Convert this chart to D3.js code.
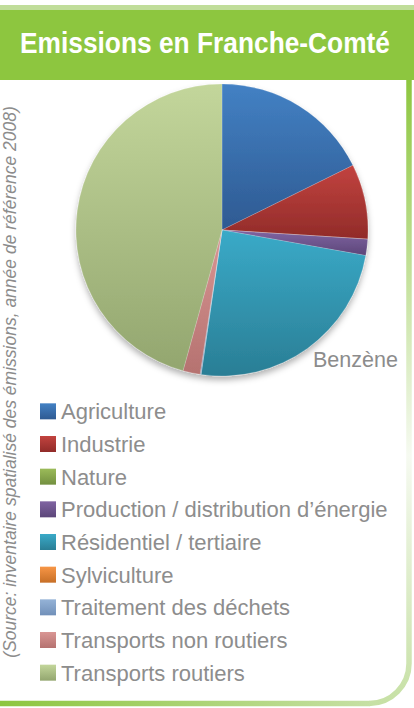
<!doctype html>
<html lang="fr">
<head>
  <meta charset="utf-8">
  <script src="https://d3js.org/d3.v7.min.js"></script>
  <title>Emissions en Franche-Comté</title>
  <style>
    body { margin: 0; background: #fff; }
    svg { display: block; font-family: "Liberation Sans", Arial, sans-serif; }
  </style>
</head>
<body>
  <svg id="chart" width="414" height="708"></svg>
  <script>
    // categories and shares (%), clockwise from 12 o'clock
    var sectors = ["Agriculture", "Industrie", "Nature", "Production / distribution d\u2019énergie",
      "Résidentiel / tertiaire", "Sylviculture", "Traitement des déchets",
      "Transports non routiers", "Transports routiers"];
    var shares = [17.7, 8.3, 0, 1.8, 24.5, 0, 0.1, 1.9, 45.7];
    var topColors = ["#4381c4", "#c2433f", "#9bbb59", "#8064a2", "#3aaac8", "#f79646", "#95b3d7", "#d99694", "#c3d69b"];
    var bottomColors = ["#2e5a92", "#912b29", "#739040", "#5c4679", "#2a7e95", "#c76f27", "#7190b9", "#b57270", "#93a66f"];
    var pollutant = "Benzène";
    var title = "Emissions en Franche-Comté";
    var source = "(Source: inventaire spatialisé des émissions, année de référence 2008)";

    var svg = d3.select("#chart");
    var defs = svg.append("defs");

    // frame gradients
    var side = defs.append("linearGradient").attr("id", "sideGrad")
      .attr("gradientUnits", "userSpaceOnUse").attr("x1", 0).attr("y1", 80).attr("x2", 0).attr("y2", 706);
    side.append("stop").attr("offset", 0).attr("stop-color", "#8dc63f");
    side.append("stop").attr("offset", 0.6).attr("stop-color", "#f6faf1");
    side.append("stop").attr("offset", 1).attr("stop-color", "#c6e0a4");

    var bottom = defs.append("linearGradient").attr("id", "bottomGrad")
      .attr("gradientUnits", "userSpaceOnUse").attr("x1", 0).attr("y1", 0).attr("x2", 370).attr("y2", 0);
    bottom.append("stop").attr("offset", 0).attr("stop-color", "#8dc63f");
    bottom.append("stop").attr("offset", 1).attr("stop-color", "#c6e0a4");

    var shadow = defs.append("filter").attr("id", "pieShadow")
      .attr("x", -0.1).attr("y", -0.1).attr("width", 1.2).attr("height", 1.25);
    shadow.append("feDropShadow").attr("dx", 0).attr("dy", 4).attr("stdDeviation", 3)
      .attr("flood-color", "#000").attr("flood-opacity", 0.3);

    sectors.forEach(function (s, i) {
      var g = defs.append("linearGradient").attr("id", "slice" + i)
        .attr("x1", 0).attr("y1", 0).attr("x2", 0).attr("y2", 1);
      g.append("stop").attr("offset", 0).attr("stop-color", topColors[i]);
      g.append("stop").attr("offset", 1).attr("stop-color", bottomColors[i]);
    });

    // header
    svg.append("rect").attr("x", 0).attr("y", 5).attr("width", 414).attr("height", 5).attr("fill", "#c0dd9a");
    svg.append("rect").attr("x", 0).attr("y", 10).attr("width", 414).attr("height", 70).attr("fill", "#8dc63f");
    var head = svg.append("text")
      .attr("text-anchor", "middle")
      .style("font-size", "29px").style("font-weight", "bold").style("fill", "#fff")
      .text(title);
    // squeeze to the condensed width of the original face
    var sx = Math.min(1, 370 / head.node().getComputedTextLength());
    head.attr("transform", "translate(205,53) scale(" + sx + ",1)");

    // frame
    svg.append("path").attr("d", "M409,80 V663 A40,40 0 0 1 369,703.5")
      .attr("fill", "none").attr("stroke", "url(#sideGrad)").attr("stroke-width", 5.5);
    svg.append("line").attr("x1", 0).attr("x2", 369.5).attr("y1", 703.5).attr("y2", 703.5)
      .attr("stroke", "url(#bottomGrad)").attr("stroke-width", 5.5);

    // pie
    var pie = d3.pie().sort(null).value(function (d) { return d; });
    var arc = d3.arc().innerRadius(0).outerRadius(146);
    var pieG = svg.append("g").attr("transform", "translate(222,230)").attr("filter", "url(#pieShadow)");
    pieG.selectAll("path")
      .data(pie(shares))
      .enter()
      .append("path")
      .attr("d", arc)
      .attr("fill", function (d, i) { return "url(#slice" + i + ")"; })
      .attr("stroke", "rgba(255,255,255,0.35)")
      .attr("stroke-width", 0.5);

    svg.append("text")
      .attr("x", 313).attr("y", 367)
      .style("font-size", "21.5px").style("fill", "#8c8c8c")
      .text(pollutant);

    // legend
    var y = d3.scaleBand().domain(sectors).range([395, 689]);
    var legend = svg.append("g").selectAll("g")
      .data(sectors)
      .enter()
      .append("g")
      .attr("transform", function (d) { return "translate(40," + (y(d) + y.bandwidth() / 2) + ")"; });
    legend.append("rect")
      .attr("x", 0).attr("y", -8).attr("width", 16).attr("height", 16)
      .attr("fill", function (d, i) { return "url(#slice" + i + ")"; });
    legend.append("text")
      .attr("x", 21).attr("y", 8)
      .style("font-size", "22px").style("fill", "#8d8d8d")
      .text(function (d) { return d; });

    // rotated source
    svg.append("text")
      .attr("transform", "translate(16,382) rotate(-90)")
      .attr("text-anchor", "middle")
      .style("font-size", "17.5px").style("font-style", "italic").style("fill", "#8c8c8c")
      .text(source);
  </script>
</body>
</html>
